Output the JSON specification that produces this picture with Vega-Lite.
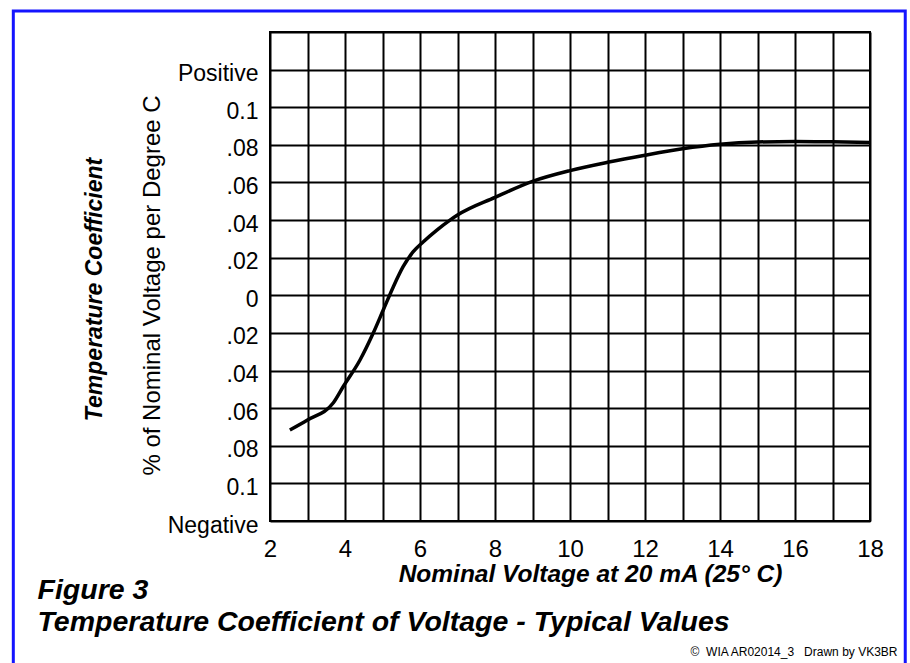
{
  "$schema": "https://vega.github.io/schema/vega-lite/v6.json",
  "width": 600,
  "height": 489,
  "autosize": {"type": "none"},
  "padding": {"left": 270, "top": 32, "right": 40, "bottom": 142},
  "background": "white",
  "config": {
    "view": {"stroke": "black", "strokeWidth": 2},
    "font": "Liberation Sans",
    "axis": {"domain": false, "ticks": false, "labelFont": "Liberation Sans", "titleFont": "Liberation Sans", "labelColor": "black", "titleColor": "black"}
  },
  "data": {
    "values": [
      {"v": 2.53, "tc": -0.0716},
      {"v": 3.0, "tc": -0.0663},
      {"v": 3.69, "tc": -0.0571},
      {"v": 3.95, "tc": -0.0486},
      {"v": 4.4, "tc": -0.0344},
      {"v": 4.75, "tc": -0.0202},
      {"v": 5.02, "tc": -0.0078},
      {"v": 5.29, "tc": 0.0046},
      {"v": 5.55, "tc": 0.0152},
      {"v": 5.82, "tc": 0.0232},
      {"v": 6.09, "tc": 0.0285},
      {"v": 6.45, "tc": 0.0347},
      {"v": 6.8, "tc": 0.04},
      {"v": 7.0, "tc": 0.0427},
      {"v": 8.0, "tc": 0.0521},
      {"v": 9.0, "tc": 0.0606},
      {"v": 10.0, "tc": 0.0663},
      {"v": 11.0, "tc": 0.0707},
      {"v": 12.0, "tc": 0.0745},
      {"v": 13.0, "tc": 0.0779},
      {"v": 14.0, "tc": 0.0803},
      {"v": 15.0, "tc": 0.0815},
      {"v": 16.0, "tc": 0.0818},
      {"v": 17.0, "tc": 0.0816},
      {"v": 18.0, "tc": 0.0813}
    ]
  },
  "layer": [
    {
      "data": {"values": [{}]},
      "mark": {"type": "rect", "fillOpacity": 0, "stroke": "#1414ff", "strokeWidth": 3, "clip": false},
      "encoding": {
        "x": {
          "datum": -4.845, "type": "quantitative",
          "scale": {"domain": [2, 18], "nice": false, "zero": false},
          "axis": {
            "orient": "bottom", "labels": false, "grid": false,
            "title": ["Figure 3", "Temperature Coefficient of Voltage - Typical Values"],
            "titleFontSize": 28.5, "titleFontWeight": "bold", "titleFontStyle": "italic",
            "titleX": -233, "titleY": 77, "titleAlign": "left", "titleAnchor": null, "titleBaseline": "alphabetic", "titleLineHeight": 32
          }
        },
        "x2": {"datum": 18.94},
        "y": {
          "datum": 0.1512, "type": "quantitative",
          "scale": {"domain": [-0.12, 0.14], "nice": false, "zero": false},
          "axis": {
            "orient": "left", "labels": false, "grid": false,
            "title": "Temperature Coefficient",
            "titleFontSize": 23, "titleFontWeight": "bold", "titleFontStyle": "italic",
            "titleAngle": -90, "titleX": -176, "titleY": 257, "titleAlign": "center", "titleBaseline": "middle", "titleAnchor": null
          }
        },
        "y2": {"datum": -0.35}
      }
    },
    {
      "mark": {"type": "line", "color": "black", "strokeWidth": 3.5, "interpolate": "monotone"},
      "encoding": {
        "x": {
          "field": "v", "type": "quantitative",
          "scale": {"domain": [2, 18], "nice": false, "zero": false},
          "axis": {
            "orient": "bottom",
            "values": [2, 3, 4, 5, 6, 7, 8, 9, 10, 11, 12, 13, 14, 15, 16, 17, 18],
            "labelExpr": "datum.value % 2 == 0 ? datum.label : ''",
            "labelFontSize": 24, "labelPadding": 16, "labelBaseline": "top", "labelFlush": false, "labelOverlap": false,
            "grid": true, "gridColor": "black", "gridOpacity": 1, "gridWidth": 2,
            "title": "Nominal Voltage at 20 mA (25° C)",
            "titleFontSize": 24.5, "titleFontWeight": "bold", "titleFontStyle": "italic",
            "titleX": 320, "titleY": 60, "titleAlign": "center", "titleBaseline": "alphabetic", "titleAnchor": null
          }
        },
        "y": {
          "field": "tc", "type": "quantitative",
          "scale": {"domain": [-0.12, 0.14], "nice": false, "zero": false},
          "axis": {
            "orient": "left",
            "values": [-0.12, -0.1, -0.08, -0.06, -0.04, -0.02, 0, 0.02, 0.04, 0.06, 0.08, 0.1, 0.12, 0.14],
            "labelExpr": "abs(round(datum.value*100))==14 ? '' : abs(round(datum.value*100))==12 ? (datum.value > 0 ? 'Positive' : 'Negative') : abs(round(datum.value*100))==10 ? '0.1' : round(datum.value*100)==0 ? '0' : '.0' + abs(round(datum.value*100))",
            "labelFontSize": 23, "labelPadding": 12, "labelOffset": 4, "labelFlush": false, "labelOverlap": false,
            "grid": true, "gridColor": "black", "gridOpacity": 1, "gridWidth": 2,
            "title": "% of Nominal Voltage per Degree C",
            "titleFontSize": 24, "titleFontWeight": "normal",
            "titleAngle": -90, "titleX": -118, "titleY": 253, "titleAlign": "center", "titleBaseline": "middle", "titleAnchor": null
          }
        }
      }
    },
    {
      "mark": {"type": "point", "opacity": 0},
      "encoding": {
        "x": {
          "field": "v", "type": "quantitative",
          "scale": {"domain": [2, 18], "nice": false, "zero": false},
          "axis": {
            "orient": "bottom", "labels": false, "grid": false,
            "title": "©\u00a0 WIA AR02014_3\u00a0\u00a0 Drawn by VK3BR",
            "titleFontSize": 12, "titleFontWeight": "normal",
            "titleX": 627, "titleY": 134, "titleAlign": "right", "titleBaseline": "alphabetic", "titleAnchor": null
          }
        },
        "y": {"field": "tc", "type": "quantitative", "scale": {"domain": [-0.12, 0.14], "nice": false, "zero": false}, "axis": null}
      }
    }
  ],
  "resolve": {"axis": {"x": "independent", "y": "independent"}}
}
